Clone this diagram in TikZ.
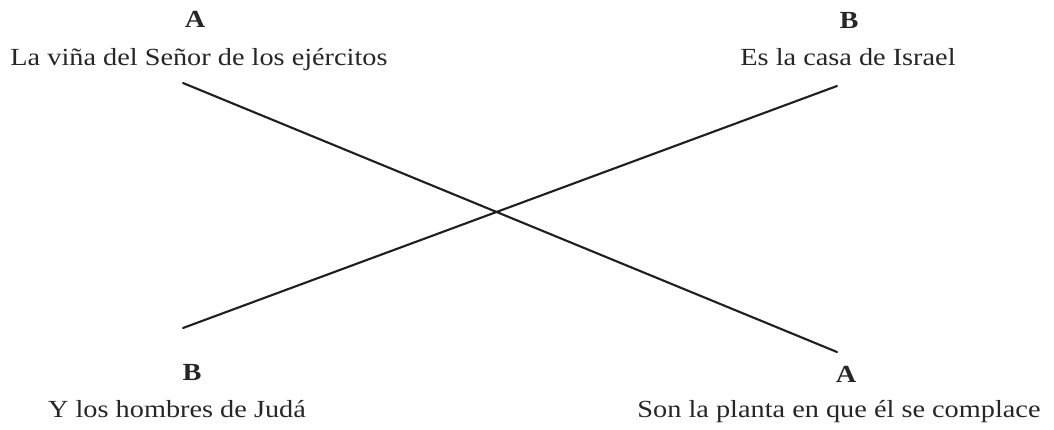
\documentclass[tikz,border=0pt]{standalone}
\usepackage{fontspec}
\setmainfont[FakeStretch=1.15]{Liberation Serif}
\usepackage{tkz-euclide}
\usetikzlibrary{calc}
\definecolor{LineClr}{rgb}{0.12,0.12,0.12}
\definecolor{TextClr}{rgb}{0.15,0.15,0.15}

\begin{document}
\begin{tikzpicture}[verse/.style={anchor=base,inner sep=0pt,text=TextClr,font=\fontsize{17.5}{20}\selectfont},
  tag/.style={verse,font=\fontsize{17.5}{20}\selectfont\bfseries}]
\useasboundingbox (0,0) rectangle (26.35,10.725);
\tkzSetUpLine[line width=1.5pt,color=LineClr]

\tkzDefPoints{4.575/8.65/A1,20.925/1.925/A2,20.925/8.575/B1,4.575/2.525/B2}

\tkzDrawSegments(A1,A2 B1,B2)

\node[tag] (tagA1) at (4.875,10.05) {A};
\node[verse] (versoA1) at (4.975,9.1) {La viña del Señor de los ejércitos};
\node[tag] (tagB1) at (21.225,10.025) {B};
\node[verse] (versoB1) at (21.2,9.1) {Es la casa de Israel};
\node[tag] (tagB2) at (4.8,1.225) {B};
\node[verse] (versoB2) at (4.425,0.3) {Y los hombres de Judá};
\node[tag] (tagA2) at (21.15,1.175) {A};
\node[verse] (versoA2) at (20.975,0.3) {Son la planta en que él se complace};

\end{tikzpicture}
\end{document}
